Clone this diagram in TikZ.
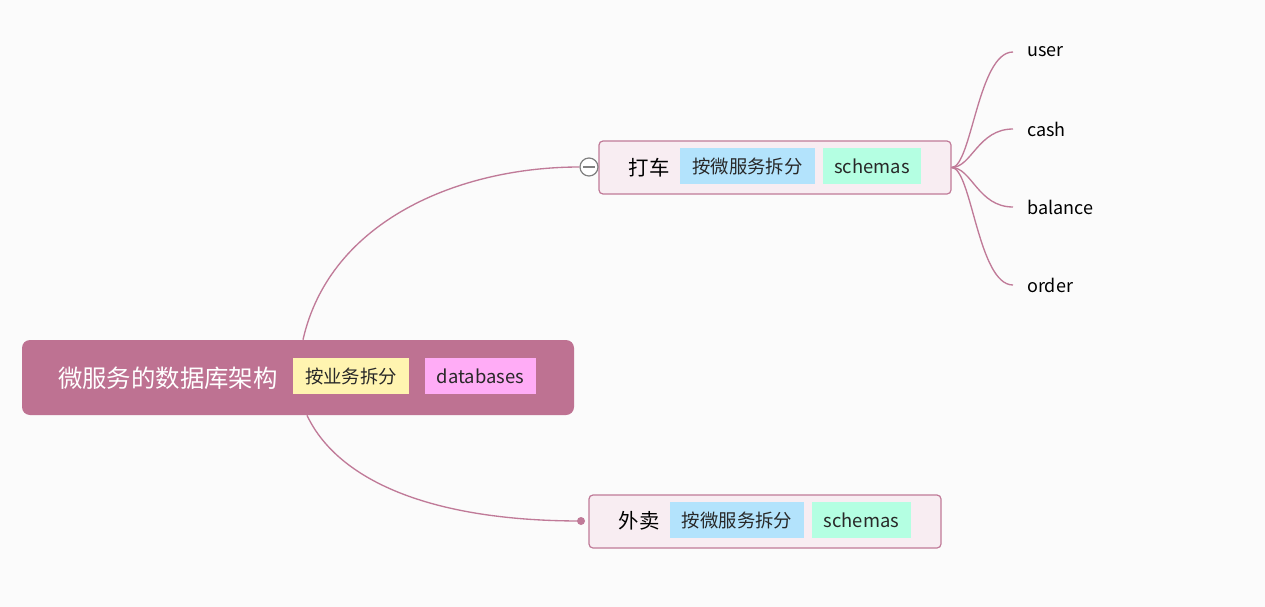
\documentclass[tikz,border=0pt]{standalone}
\usepackage{fontspec}
\setmainfont{Noto Sans CJK SC}
\definecolor{paper}{RGB}{251, 251, 251}
\definecolor{mauve}{RGB}{190, 114, 146}
\definecolor{mauveline}{RGB}{192, 122, 152}
\definecolor{blush}{RGB}{248, 237, 242}
\definecolor{lemon}{RGB}{255, 244, 176}
\definecolor{orchid}{RGB}{255, 172, 246}
\definecolor{sky}{RGB}{179, 227, 252}
\definecolor{mint}{RGB}{180, 255, 226}
\definecolor{ink}{RGB}{40, 40, 40}

\begin{document}
\begin{tikzpicture}[x=0.75pt, y=-0.75pt,
    rootbox/.style   = {fill=mauve, rounded corners=6pt, minimum width=414pt, minimum height=56.25pt},
    branchbox/.style = {draw=mauveline, fill=blush, rounded corners=3pt, line width=0.9pt, minimum width=264pt, minimum height=39.75pt},
    tag/.style       = {minimum height=27pt, inner sep=0pt, text=ink, font=\fontsize{13.8pt}{15pt}\selectfont},
    leaf/.style      = {anchor=west, inner sep=0pt, inner xsep=10.5pt, text=black, font=\fontsize{13.5pt}{15pt}\selectfont},
    link/.style      = {draw=mauveline, line width=1pt}]
            \fill[paper] (0, 0) rectangle (1265, 607);
            \useasboundingbox (0, 0) rectangle (1265, 607);
            % root
            \node[rootbox]                          (root)     at (298.0, 377.5) {};
            \node[text=white, font=\fontsize{18.3pt}{20pt}\selectfont] (title) at (168.0, 378.0) {微服务的数据库架构};
            \node[tag, fill=lemon,  minimum width=87.00pt] (split)  at (351.0, 376.0) {按业务拆分};
            \node[tag, fill=orchid, minimum width=83.25pt] (dbs)    at (480.5, 376.0) {databases};
            % branches
            \node[branchbox]                        (dache)    at (775.0, 167.5) {};
            \node[font=\fontsize{15.3pt}{17pt}\selectfont] (dacheT) at (649.0, 168.0) {打车};
            \node[tag, fill=sky,  minimum width=101.25pt] (dacheS) at (747.5, 166.0) {按微服务拆分};
            \node[tag, fill=mint, minimum width=73.50pt]  (dacheM) at (872.0, 166.0) {schemas};
            \node[branchbox]                        (waimai)   at (765.0, 521.5) {};
            \node[font=\fontsize{15.3pt}{17pt}\selectfont] (waimaiT) at (639.0, 521.0) {外卖};
            \node[tag, fill=sky,  minimum width=100.50pt] (waimaiS) at (737.0, 520.0) {按微服务拆分};
            \node[tag, fill=mint, minimum width=74.25pt]  (waimaiM) at (861.5, 520.0) {schemas};
            % fold marks
            \node[circle, draw=gray, fill=white, line width=0.9pt, minimum size=13.5pt, inner sep=0pt] (fold) at (589, 167) {};
            \draw[gray, line width=0.9pt] ([xshift=-4.5pt]fold.center) -- ([xshift=4.5pt]fold.center);
            \node[circle, fill=mauveline, minimum size=6pt, inner sep=0pt] (dot) at (581, 521) {};
            % leaves
            \node[leaf] (user)    at (1013,  52) {user};
            \node[leaf] (cash)    at (1013, 129) {cash};
            \node[leaf] (balance) at (1013, 207) {balance};
            \node[leaf] (order)   at (1013, 285) {order};
            % connectors
            \coordinate (rootN) at ([xshift=3.75pt]root.north);
            \coordinate (rootS) at ([xshift=6.75pt]root.south);
            \path[link] (rootN) .. controls (330, 220) and (460, 167) .. (fold.west);
            \path[link] (rootS) .. controls (335, 475) and (420, 521) .. (dot.center);
            \foreach \leafname in {user, cash, balance, order}
                \path[link] (dache.east) .. controls +(20, 0) and +(-35, 0) .. (\leafname.west);
\end{tikzpicture}
\end{document}
